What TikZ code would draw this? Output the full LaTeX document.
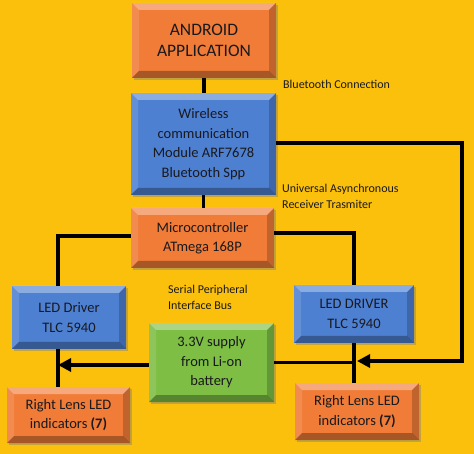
\documentclass[tikz,border=0pt]{standalone}
\usepackage{fontspec}
\setmainfont{Carlito}
\usetikzlibrary{arrows.meta, calc, positioning, shadows}
\definecolor{bgyellow}{RGB}{250,192,12}
\definecolor{boxorange}{RGB}{240,124,55}
\definecolor{boxblue}{RGB}{78,128,210}
\definecolor{boxgreen}{RGB}{126,190,68}
\definecolor{inktext}{RGB}{25,25,30}

\begin{document}
\begin{tikzpicture}[x=1pt,y=-1pt, line join=miter, >={Triangle[length=13pt,width=13pt]},
    bevel/.style={path picture={
        \coordinate (bNW) at (path picture bounding box.north west);
        \coordinate (bNE) at (path picture bounding box.north east);
        \coordinate (bSW) at (path picture bounding box.south west);
        \coordinate (bSE) at (path picture bounding box.south east);
        \fill[white,opacity=.35] (bNW) -- (bNE) -- ([shift={(-7pt,-7pt)}]bNE) -- ([shift={(7pt,-7pt)}]bNW) -- cycle;
        \fill[white,opacity=.12] (bNW) -- ([shift={(7pt,-7pt)}]bNW) -- ([shift={(7pt,7pt)}]bSW) -- (bSW) -- cycle;
        \fill[black,opacity=.2] (bNE) -- (bSE) -- ([shift={(-7pt,7pt)}]bSE) -- ([shift={(-7pt,-7pt)}]bNE) -- cycle;
        \fill[black,opacity=.3] (bSW) -- (bSE) -- ([shift={(-7pt,7pt)}]bSE) -- ([shift={(7pt,7pt)}]bSW) -- cycle;
    }},
    block/.style={fill=#1, bevel, inner sep=0pt, align=center, text=inktext,
        font=\fontsize{14.5}{19.5}\selectfont,
        drop shadow={shadow xshift=2pt, shadow yshift=-2pt, opacity=.45}},
    wire/.style={draw=black, line width=3.4pt},
    tag/.style={font=\fontsize{12}{16}\selectfont, text=inktext, align=left, inner sep=0pt, anchor=west}]

    % background
    \fill[bgyellow] (0,0) rectangle (474,454);
    \useasboundingbox (0,0) rectangle (474,454);

    % blocks
    \node[block=boxorange, minimum width=144pt, minimum height=75pt, font=\fontsize{17.5}{21.5}\selectfont] (android) at (204,40.5) {ANDROID\\APPLICATION};
    \node[block=boxblue, minimum width=145pt, minimum height=102pt] (wireless) at (203.5,144) {Wireless\\communication\\Module ARF7678\\Bluetooth Spp};
    \node[block=boxorange, minimum width=143pt, minimum height=60pt] (micro) at (202.5,238) {Microcontroller\\ATmega 168P};
    \node[block=boxblue, minimum width=114pt, minimum height=63pt] (ledL) at (69,317.5) {LED Driver\\TLC 5940};
    \node[block=boxblue, minimum width=120pt, minimum height=58pt] (ledR) at (354,314) {LED DRIVER\\TLC 5940};
    \node[block=boxgreen, minimum width=125pt, minimum height=79pt] (supply) at (211.5,362.5) {3.3V supply\\from Li-on\\battery};
    \node[block=boxorange, minimum width=123pt, minimum height=56pt] (lensL) at (68.5,415) {Right Lens LED\\indicators \textbf{(7)}};
    \node[block=boxorange, minimum width=124pt, minimum height=57pt] (lensR) at (357,411.5) {Right Lens LED\\indicators \textbf{(7)}};

    % junctions
    \coordinate (jL) at (58,365);
    \coordinate (jR) at (354,361);
    \coordinate (loop) at (462,361);

    % connectors
    \draw[wire] (android.south) -- (android.south |- wireless.north);
    \draw[wire] (wireless.south) -- (wireless.south |- micro.north);
    \draw[wire] ([yshift=2pt]micro.west) -| (ledL.north -| jL);
    \draw[wire] ([yshift=5pt]micro.east) -| (ledR.north);
    \draw[wire,->,shorten >=3pt] ([yshift=1pt]wireless.east) -| (loop) -- (jR);
    \draw[wire] (supply.east) -- (ledR.south |- supply.east);
    \draw[wire] (ledR.south) -- (ledR.south |- lensR.north);
    \draw[wire,->] (supply.west |- jL) -- (jL);
    \draw[wire] (ledL.south -| jL) -- (lensL.north -| jL);

    % labels
    \node[tag] (btlabel) at (283,84) {Bluetooth Connection};
    \node[tag] (uartlabel) at (282,196) {Universal Asynchronous\\Receiver Trasmiter};
    \node[tag] (spilabel) at (168,297) {Serial Peripheral\\Interface Bus};
\end{tikzpicture}
\end{document}
